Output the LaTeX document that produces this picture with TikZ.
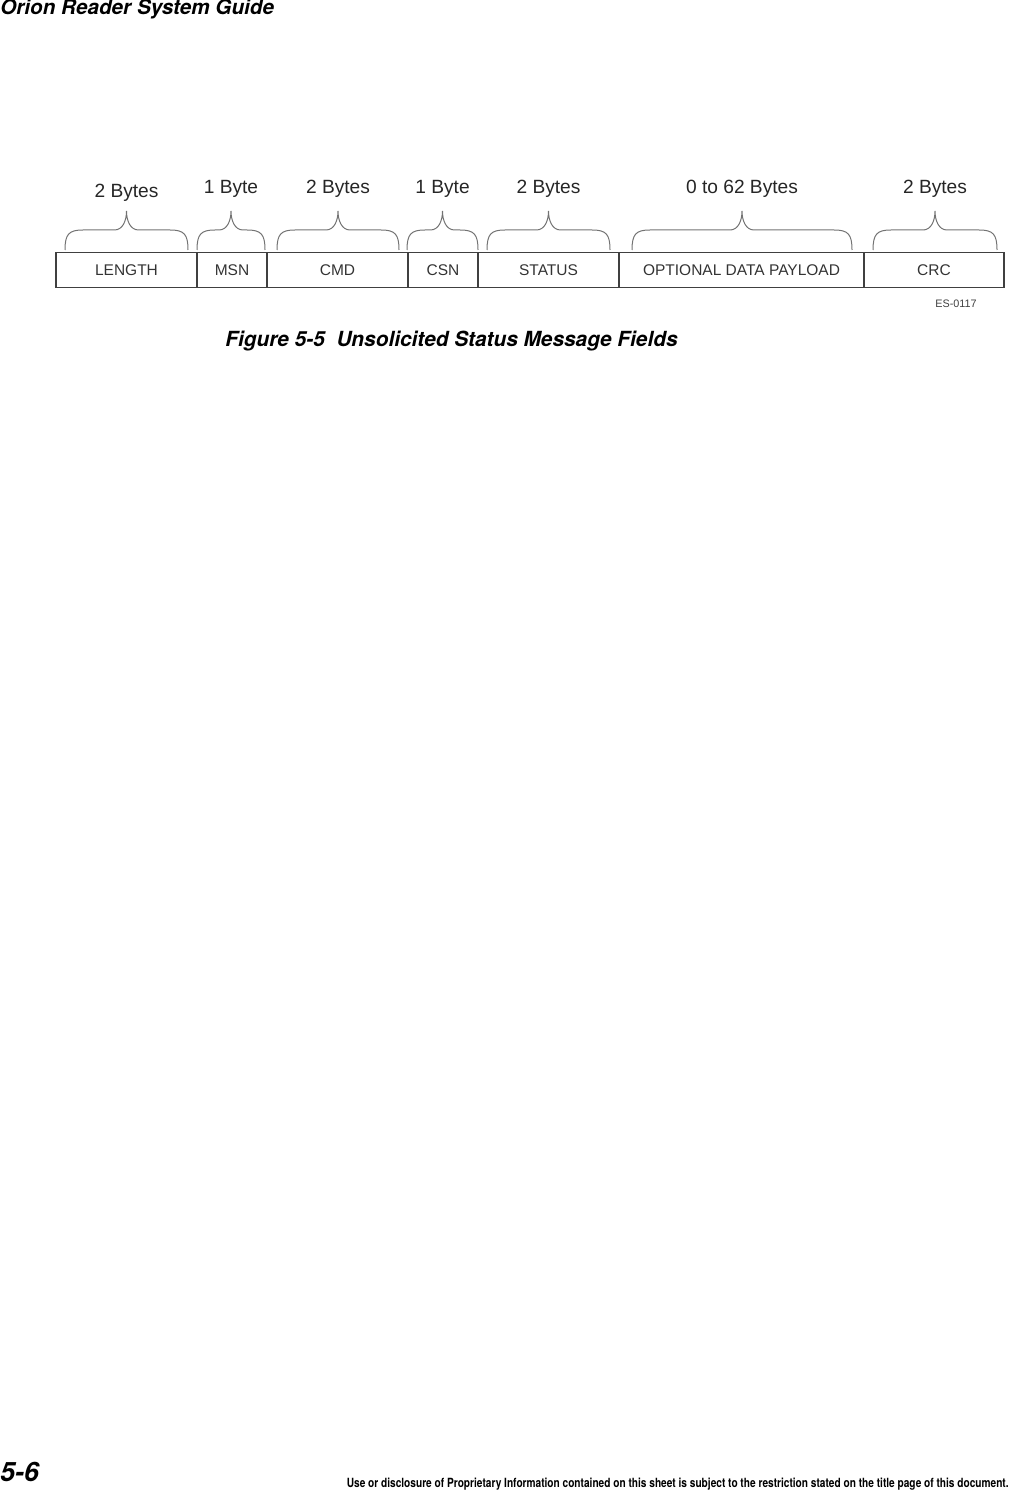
\documentclass[tikz,border=0pt]{standalone}
\usepackage{fontspec}
\setmainfont{Liberation Sans}
\newfontfamily\headfont{TeX Gyre Heros}
\newfontfamily\narrowfont[FakeStretch=0.8]{TeX Gyre Heros}
\usetikzlibrary{positioning}

\tikzset{
  field/.style={draw=black!75, line width=0.8pt, minimum height=21pt, inner sep=0pt,
    text=black!80, font=\fontsize{9.3}{11}\selectfont},
  bytebrace/.style={draw=black!55, line width=0.6pt},
  bytes/.style={text=black!85, font=\fontsize{11.5}{13}\selectfont}
}

\begin{document}
\begin{tikzpicture}[x=0.6pt, y=-0.6pt]
\useasboundingbox (0,0) rectangle (1011,1492);

%Page header and footer
\node[anchor=west, inner sep=0pt, font=\headfont\bfseries\itshape\fontsize{12.4}{15}\selectfont] (head) at (0,9) {Orion Reader System Guide};
\node[anchor=west, inner sep=0pt, font=\headfont\bfseries\itshape\fontsize{16}{18}\selectfont] (pageno) at (0,1472) {5-6};
\node[anchor=east, inner sep=0pt, font=\narrowfont\bfseries\fontsize{7.6}{9}\selectfont] (foot) at (1009,1484)
  {Use or disclosure of Proprietary Information contained on this sheet is subject to the restriction stated on the title page of this document.};

%Fields
\foreach \l/\r/\n/\t in {56/197/len/LENGTH, 197/267/msn/MSN, 267/408/cmd/CMD, 408/478/csn/CSN,
    478/619/stat/STATUS, 619/864/opt/OPTIONAL DATA PAYLOAD, 864/1004/crc/CRC}
  \node[field, minimum width=(\r-\l)*0.6pt] (\n) at ({(\l+\r)/2},270) {\t};

%Braces
\foreach \l/\r/\y/\n/\t in {65/188/193/lenb/2 Bytes, 197/265/189/msnb/1 Byte, 277/399/189/cmdb/2 Bytes,
    407/478/189/csnb/1 Byte, 487/610/189/statb/2 Bytes, 632/852/189/optb/0 to 62 Bytes, 873/997/189/crcb/2 Bytes}
{
  \pgfmathsetmacro\m{(\l+\r)/2}
  \coordinate (\n-l) at (\l,250);
  \coordinate (\n-r) at (\r,250);
  \coordinate (\n-tip) at (\m,211);
  \draw[bytebrace] (\n-l) .. controls +(0,-16) and +(-14,0) .. ++(18,-20)
    -- ({\m-12},230) .. controls +(8,0) and +(0,10) .. (\n-tip)
    .. controls +(0,10) and +(-8,0) .. ({\m+12},230)
    -- ({\r-18},230) .. controls +(14,0) and +(0,-16) .. (\n-r);
  \node[bytes] (\n-txt) at (\m,\y) {\t};
}

\node[text=black!75, font=\fontsize{6.5}{8}\selectfont] (es) at (956,304) {ES-0117};

%Caption
\node[font=\headfont\bfseries\itshape\fontsize{12.5}{14}\selectfont] (cap) at (451.5,341)
  {Figure 5-5\ \ Unsolicited Status Message Fields};

\end{tikzpicture}
\end{document}
